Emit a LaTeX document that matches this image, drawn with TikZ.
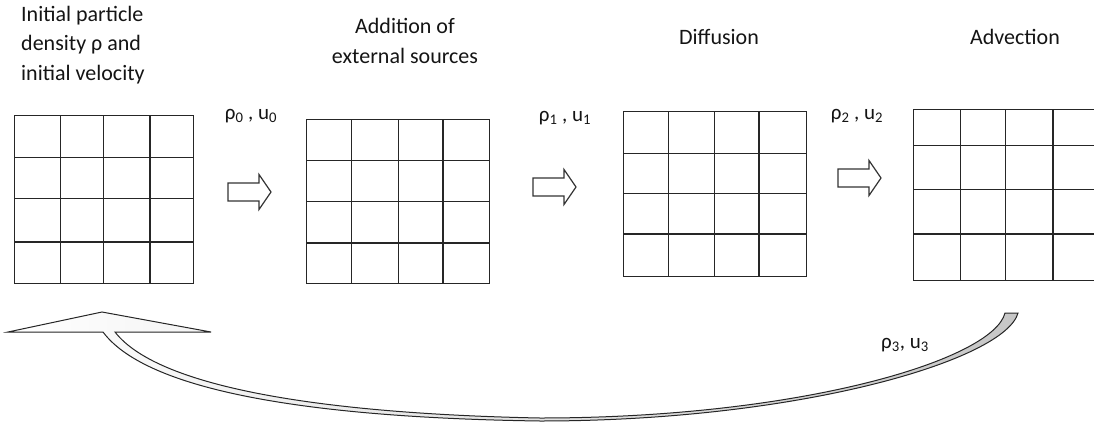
\documentclass[tikz,border=0pt]{standalone}
\usepackage{fontspec}
\setmainfont{Carlito}
\usetikzlibrary{calc}

% inner rules of a lattice node: column fractions, then row fractions
\newcommand\latticerules[3]{%
  \foreach \f in {#2}
    \draw[gridline] ($(#1.north west)!\f!(#1.north east)$) -- ($(#1.south west)!\f!(#1.south east)$);
  \foreach \f in {#3}
    \draw[gridline] ($(#1.north west)!\f!(#1.south west)$) -- ($(#1.north east)!\f!(#1.south east)$);
}

\begin{document}
\begin{tikzpicture}[x=1pt,y=-1pt,
  gridframe/.style={draw=black!85, line width=1.4pt, inner sep=0pt, anchor=north west},
  gridline/.style={draw=black!85, line width=1.3pt},
  blockarrow/.style={draw=black!80, line width=1.2pt, fill=white, line join=miter},
  title/.style={font=\fontsize{22}{29.5}\selectfont, text=black!92, inner sep=0pt},
  flowlabel/.style={font=\fontsize{21}{25}\selectfont, text=black!92, inner sep=0pt},
  loopband/.style={draw=black!85, line width=1pt, left color=white, right color=black!22},
  pics/rightarrow/.style={code={
    \path[blockarrow] (0,-9) -- (31,-9) -- (31,-17.5) -- (43,0) -- (31,17.5) -- (31,9) -- (0,9) -- cycle;}},
]
\useasboundingbox (0,0) rectangle (1094,423);
\clip (0,0) rectangle (1094,423);

% step titles (base anchor sits on the last line)
\node[title, anchor=base west, align=left] (t1) at (21,80) {Initial particle\\density ρ and\\initial velocity};
\node[title, align=center] (t2) at (405,41) {Addition of\\external sources};
\node[title] (t3) at (719,37) {Diffusion};
\node[title] (t4) at (1015,37) {Advection};

% lattices
\node[gridframe, minimum width=179pt, minimum height=168pt] (g1) at (14,115) {};
\latticerules{g1}{0.257,0.497,0.754}{0.25,0.494,0.75}
\node[gridframe, minimum width=183pt, minimum height=164pt] (g2) at (306,119) {};
\latticerules{g2}{0.246,0.503,0.743}{0.25,0.5,0.75}
\node[gridframe, minimum width=183pt, minimum height=165pt] (g3) at (623,111) {};
\latticerules{g3}{0.246,0.497,0.738}{0.255,0.497,0.739}
\node[gridframe, minimum width=186pt, minimum height=171pt] (g4) at (913,109) {};
\latticerules{g4}{0.253,0.495,0.747}{0.21,0.468,0.725}

% step arrows
\pic at (228,192) {rightarrow};
\pic at (533,187) {rightarrow};
\pic at (838,178) {rightarrow};

% quantities passed between steps
\node[flowlabel] (l0) at (251,116) {ρ\textsubscript{0} , u\textsubscript{0}};
\node[flowlabel] (l1) at (565,118) {ρ\textsubscript{1} , u\textsubscript{1}};
\node[flowlabel] (l2) at (857,116) {ρ\textsubscript{2} , u\textsubscript{2}};
\node[flowlabel] (l3) at (905,345) {ρ\textsubscript{3}, u\textsubscript{3}};

% curved return arrow
\path[loopband] (8,332) -- (102,312) -- (211,332) -- (115,332)
  .. controls (160,390) and (335,414) .. (540,418)
  .. controls (800,418) and (993,360) .. (1005,313)
  -- (1018,313)
  .. controls (1005,360) and (800,421) .. (540,421)
  .. controls (330,418) and (150,395) .. (103,332)
  -- cycle;
\end{tikzpicture}
\end{document}
